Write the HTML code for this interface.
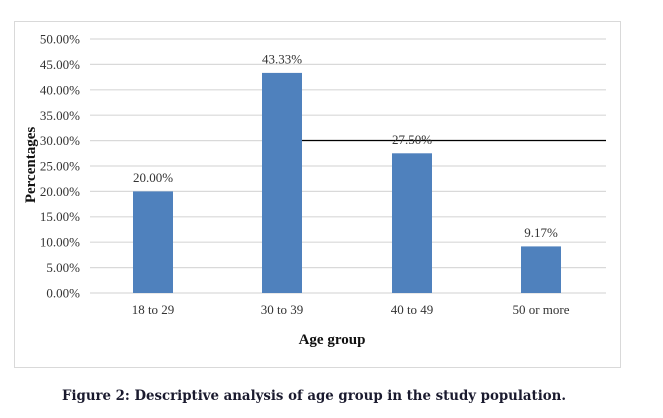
<!DOCTYPE html><html><head><style>body{margin:0;background:#fff;width:663px;height:413px;overflow:hidden}</style></head><body>
<svg width="663" height="413" xmlns="http://www.w3.org/2000/svg" font-family="Liberation Serif, serif">
<rect x="14.5" y="21.5" width="606" height="346" fill="#fff" stroke="#d9d9d9"/>
<g stroke="#d9d9d9" stroke-width="1.2">
<line x1="90" x2="606" y1="39" y2="39"/><line x1="90" x2="606" y1="64.4" y2="64.4"/><line x1="90" x2="606" y1="89.8" y2="89.8"/><line x1="90" x2="606" y1="115.2" y2="115.2"/><line x1="90" x2="606" y1="140.6" y2="140.6"/><line x1="90" x2="606" y1="166" y2="166"/><line x1="90" x2="606" y1="191.4" y2="191.4"/><line x1="90" x2="606" y1="216.8" y2="216.8"/><line x1="90" x2="606" y1="242.2" y2="242.2"/><line x1="90" x2="606" y1="267.6" y2="267.6"/><line x1="90" x2="606" y1="293" y2="293"/>
</g>
<g font-size="13" fill="#333" text-anchor="end">
<text x="80" y="43.5">50.00%</text><text x="80" y="69">45.00%</text><text x="80" y="94.5">40.00%</text><text x="80" y="120">35.00%</text><text x="80" y="145">30.00%</text><text x="80" y="170.5">25.00%</text><text x="80" y="196">20.00%</text><text x="80" y="221">15.00%</text><text x="80" y="246.5">10.00%</text><text x="80" y="272">5.00%</text><text x="80" y="297.5">0.00%</text>
</g>
<g fill="#4f81bd">
<rect x="133" y="191.4" width="40" height="101.6"/><rect x="262" y="72.9" width="40" height="220.1"/><rect x="392" y="153.3" width="40" height="139.7"/><rect x="521" y="246.4" width="40" height="46.6"/>
</g>
<line x1="302" x2="606" y1="140.5" y2="140.5" stroke="#000" stroke-width="1.3"/>
<g font-size="13" fill="#333" text-anchor="middle">
<text x="153" y="182">20.00%</text><text x="282" y="63.5">43.33%</text><text x="412" y="144">27.50%</text><text x="541" y="237">9.17%</text>
<text x="153" y="314">18 to 29</text><text x="282" y="314">30 to 39</text><text x="412" y="314">40 to 49</text><text x="541" y="314">50 or more</text>
</g>
<text x="332" y="344" font-size="15" font-weight="bold" text-anchor="middle" fill="#111">Age group</text>
<text transform="translate(35,165) rotate(-90)" font-size="15" font-weight="bold" text-anchor="middle" fill="#111">Percentages</text>
<text x="314" y="400" font-size="14" font-weight="bold" text-anchor="middle" fill="#1a1a2e" font-family="DejaVu Serif, serif" textLength="504" lengthAdjust="spacingAndGlyphs">Figure 2: Descriptive analysis of age group in the study population.</text>
</svg></body></html>
